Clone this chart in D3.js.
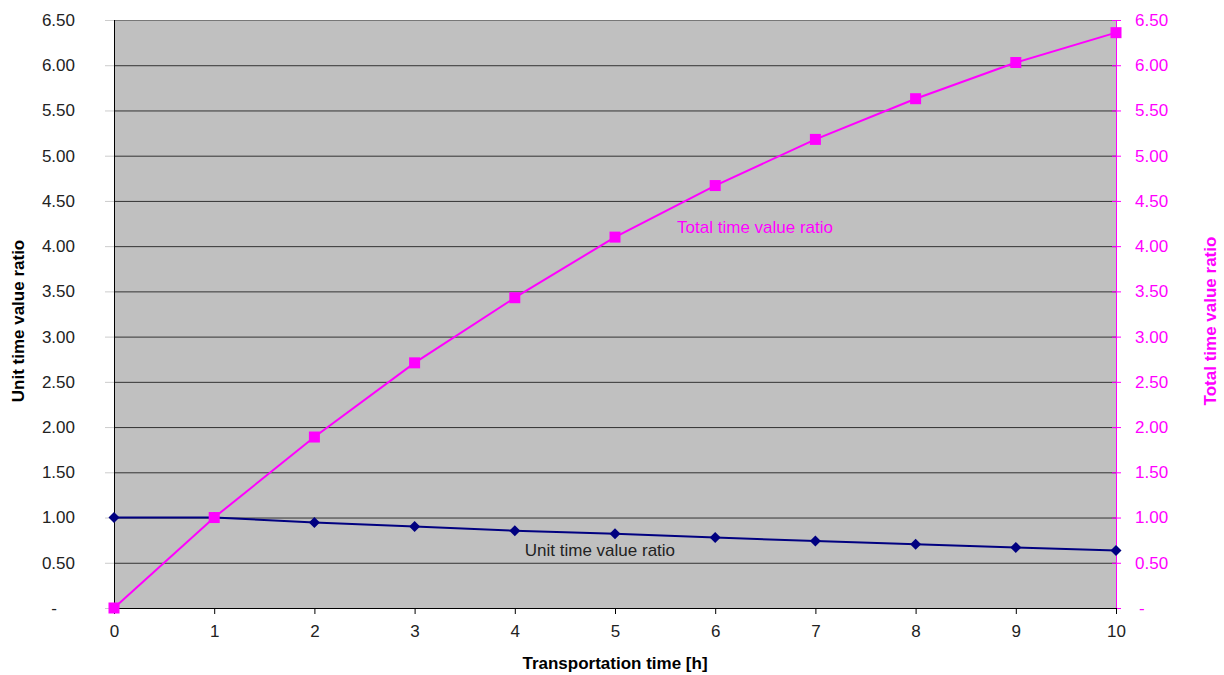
<!DOCTYPE html>
<html>
<head>
<meta charset="utf-8">
<script src="https://cdnjs.cloudflare.com/ajax/libs/d3/7.8.5/d3.min.js"></script>
<style>
  body { margin: 0; background: #fff; }
  svg text { font-family: "Liberation Sans", Arial, sans-serif; }
</style>
</head>
<body>
<svg width="1224" height="675"></svg>
<script>
// data
var hours = [0, 1, 2, 3, 4, 5, 6, 7, 8, 9, 10];
var unitRatio = [1.00, 1.00, 0.945, 0.90, 0.855, 0.82, 0.78, 0.74, 0.705, 0.67, 0.635];
var totalRatio = [0.00, 1.00, 1.89, 2.71, 3.43, 4.10, 4.67, 5.18, 5.63, 6.03, 6.36];
var yTicks = [0, 0.5, 1, 1.5, 2, 2.5, 3, 3.5, 4, 4.5, 5, 5.5, 6, 6.5];

var magenta = '#ff00ff',
    navy = '#000080',
    fs = 17;

var svg = d3.select('svg');
var margin = { top: 20, left: 114, right: 108, bottom: 67 },
    width = 1224,
    height = 675,
    drawWidth = width - margin.left - margin.right,
    drawHeight = height - margin.top - margin.bottom;

var xScale = d3.scaleLinear().domain([0, 10]).range([0, drawWidth]);
var yLeft = d3.scaleLinear().domain([0, 6.5]).range([drawHeight, 0]);
var yRight = d3.scaleLinear().domain([0, 6.5]).range([drawHeight, 0]);

var fmt = function(d) { return d === 0 ? '-' : d3.format('.2f')(d); };

var g = svg.append('g').attr('transform', 'translate(' + margin.left + ',' + margin.top + ')');

// plot background
g.append('rect')
    .attr('width', drawWidth)
    .attr('height', drawHeight)
    .attr('fill', '#c0c0c0');

// gridlines
g.selectAll('.grid')
    .data(yTicks.filter(function(d) { return d > 0; }))
    .enter().append('line')
    .attr('x1', 0).attr('x2', drawWidth)
    .attr('y1', function(d) { return yLeft(d) + 0.5; })
    .attr('y2', function(d) { return yLeft(d) + 0.5; })
    .attr('stroke', function(d) { return d === 6.5 ? '#777' : '#333'; })
    .attr('stroke-width', 1);

// left axis
var leftAxis = g.append('g').call(d3.axisLeft(yLeft).tickValues(yTicks).tickFormat(fmt).tickSize(9).tickPadding(30));
leftAxis.select('.domain').attr('stroke', '#000').attr('d', 'M0.5,' + drawHeight + 'V0');
leftAxis.selectAll('.tick line').attr('stroke', '#ccc');
leftAxis.selectAll('.tick text')
    .attr('font-size', fs).attr('fill', '#222')
    .attr('dx', function(d) { return d === 0 ? -18 : 0; });

// right axis
var rightAxis = g.append('g')
    .attr('transform', 'translate(' + drawWidth + ',0)')
    .call(d3.axisRight(yRight).tickValues(yTicks).tickFormat(fmt).tickSize(5).tickPadding(14));
rightAxis.select('.domain').attr('stroke', magenta).attr('d', 'M0.5,' + drawHeight + 'V0');
rightAxis.selectAll('.tick line').attr('stroke', magenta).attr('x1', -4);
rightAxis.selectAll('.tick text')
    .attr('font-size', fs).attr('fill', magenta)
    .attr('dx', function(d) { return d === 0 ? 4 : 0; });

// bottom axis
var bottomAxis = g.append('g')
    .attr('transform', 'translate(0,' + drawHeight + ')')
    .call(d3.axisBottom(xScale).tickValues(hours).tickFormat(d3.format('d')).tickSize(6).tickPadding(11));
bottomAxis.select('.domain').attr('stroke', '#000').attr('d', 'M0,0.5H' + drawWidth);
bottomAxis.selectAll('.tick line').attr('stroke', '#000');
bottomAxis.selectAll('.tick text').attr('font-size', fs).attr('fill', '#222');

// lines
var unitLine = d3.line()
    .x(function(d, i) { return xScale(hours[i]); })
    .y(function(d) { return yLeft(d); });
var totalLine = d3.line()
    .x(function(d, i) { return xScale(hours[i]); })
    .y(function(d) { return yRight(d); });

g.append('path').datum(unitRatio)
    .attr('d', unitLine).attr('fill', 'none')
    .attr('stroke', navy).attr('stroke-width', 2);

g.append('path').datum(totalRatio)
    .attr('d', totalLine).attr('fill', 'none')
    .attr('stroke', magenta).attr('stroke-width', 2);

// markers
g.selectAll('.diamond')
    .data(unitRatio)
    .enter().append('path')
    .attr('d', 'M0,-5.5L5.5,0L0,5.5L-5.5,0Z')
    .attr('transform', function(d, i) { return 'translate(' + xScale(hours[i]) + ',' + yLeft(d) + ')'; })
    .attr('fill', navy);

g.selectAll('.square')
    .data(totalRatio)
    .enter().append('rect')
    .attr('x', function(d, i) { return xScale(hours[i]) - 5.5; })
    .attr('y', function(d) { return yRight(d) - 5.5; })
    .attr('width', 11).attr('height', 11)
    .attr('fill', magenta);

// series labels
g.append('text')
    .attr('x', xScale(5.62)).attr('y', yRight(4.15))
    .attr('font-size', fs).attr('fill', magenta)
    .text('Total time value ratio');

g.append('text')
    .attr('x', xScale(4.1)).attr('y', yLeft(0.58))
    .attr('font-size', fs).attr('fill', '#222')
    .text('Unit time value ratio');

// axis titles
svg.append('text')
    .attr('transform', 'translate(24,' + (margin.top + drawHeight / 2 + 7) + ') rotate(-90)')
    .attr('text-anchor', 'middle')
    .attr('font-size', fs).attr('font-weight', 'bold').attr('fill', '#000')
    .text('Unit time value ratio');

svg.append('text')
    .attr('transform', 'translate(1216,' + (margin.top + drawHeight / 2 + 7) + ') rotate(-90)')
    .attr('text-anchor', 'middle')
    .attr('font-size', fs).attr('font-weight', 'bold').attr('fill', magenta)
    .text('Total time value ratio');

svg.append('text')
    .attr('x', margin.left + drawWidth / 2)
    .attr('y', 669)
    .attr('text-anchor', 'middle')
    .attr('font-size', fs).attr('font-weight', 'bold').attr('fill', '#000')
    .text('Transportation time [h]');
</script>
</body>
</html>
